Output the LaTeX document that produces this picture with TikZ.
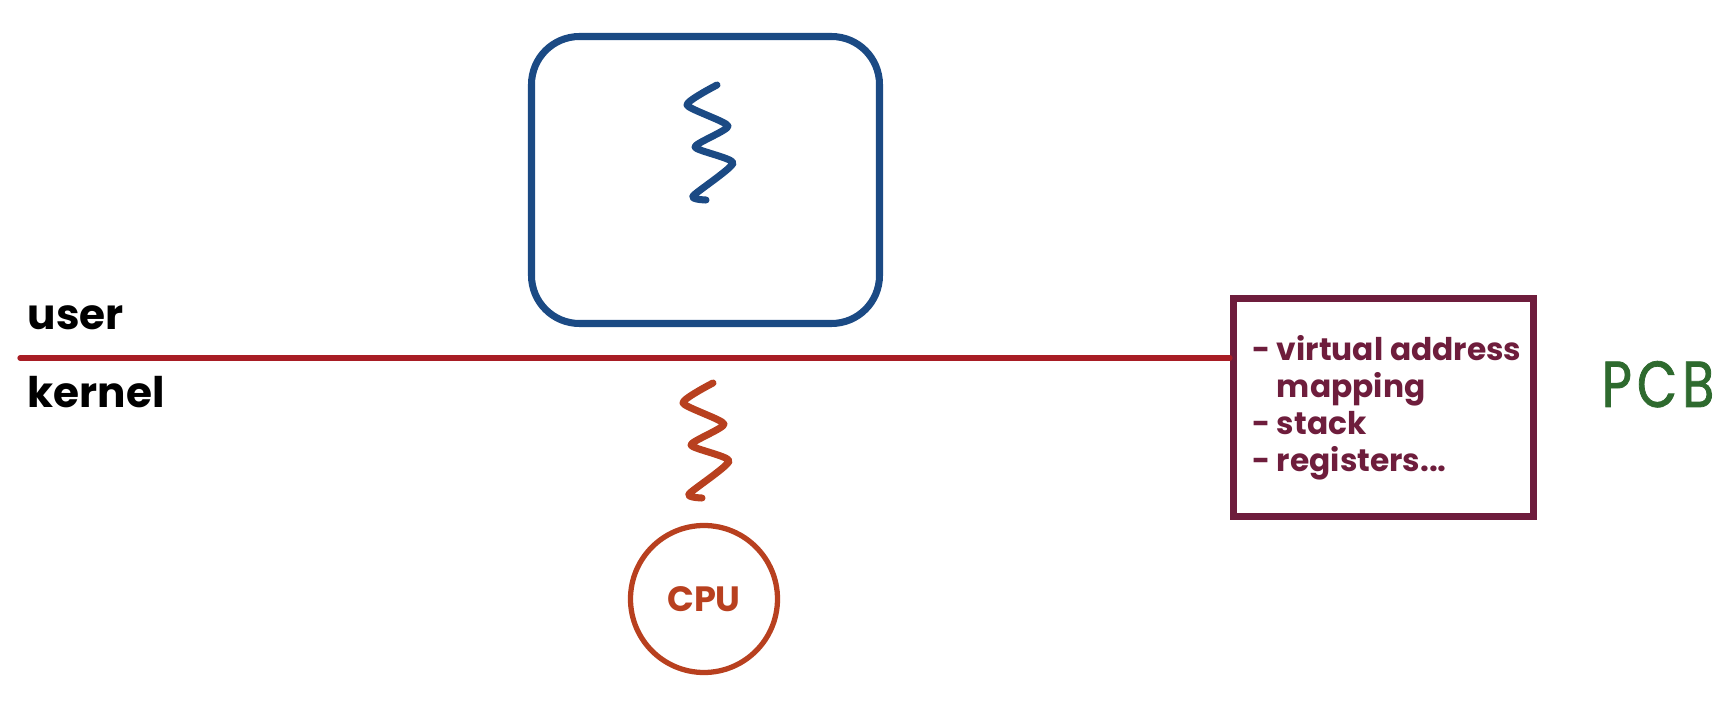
\documentclass[tikz,border=0pt]{standalone}
\usepackage{fontspec}
\setmainfont{Poppins}
\usetikzlibrary{positioning,calc}
\definecolor{procblue}{HTML}{1B4A84}
\definecolor{linered}{HTML}{A81D24}
\definecolor{cpured}{HTML}{B8401F}
\definecolor{pcbmaroon}{HTML}{6E1D3C}
\definecolor{pcbgreen}{HTML}{2E6A2E}

\begin{document}
\begin{tikzpicture}[
	label text/.style={font=\fontsize{12}{14}\selectfont\bfseries, anchor=base west, inner sep=0pt},
	thread/.pic={\draw[line width=2pt, line cap=round, line join=round]
		plot[smooth, tension=0.35] coordinates {(0,0) (-0.30,-0.20) (0.11,-0.41) (-0.22,-0.62) (0.16,-0.78) (-0.24,-1.11) (-0.11,-1.15)};}
	]
	\useasboundingbox (0,0) rectangle (17.28,-7.02);
	% process address space
	\node (proc) [draw=procblue, line width=2pt, rounded corners=0.48cm,
		minimum width=3.48cm, minimum height=2.87cm] at (7.055,-1.80) {};
	\pic[procblue] at (7.17,-0.85) {thread};
	% user / kernel boundary
	\coordinate (bound) at (0.20,-3.58);
	\node (user) [label text] at (0.27,-3.30) {user};
	\node (kernel) [label text] at (0.27,-4.08) {kernel};
	% kernel thread and cpu
	\pic[cpured] at (7.13,-3.83) {thread};
	\node (cpu) [draw=cpured, circle, line width=1.5pt, minimum size=1.47cm,
		text=cpured, font=\fontsize{10}{12}\selectfont\bfseries] at (7.04,-5.99) {CPU};
	% process control block
	\node (pcb) [draw=pcbmaroon, line width=2pt, minimum width=3.00cm,
		minimum height=2.18cm] at (13.835,-4.075) {};
	\node (pcbtext) [right=0.215cm of pcb.west, anchor=west, inner sep=0pt,
		text=pcbmaroon, align=left, font=\fontsize{8.9}{10.5}\selectfont\bfseries]
		{- virtual address\\\phantom{- }mapping\\- stack\\- registers...};
	\node (pcbname) [text=pcbgreen, anchor=base west, inner sep=0pt,
		font=\fontsize{18.5}{20}\selectfont\addfontfeatures{FakeStretch=0.8,LetterSpace=8,FakeBold=1.2}]
		at (16.01,-4.07) {PCB};
	\draw[linered, line width=1.5pt, line cap=round] (bound) -- (bound -| pcb.west);
\end{tikzpicture}
\end{document}
